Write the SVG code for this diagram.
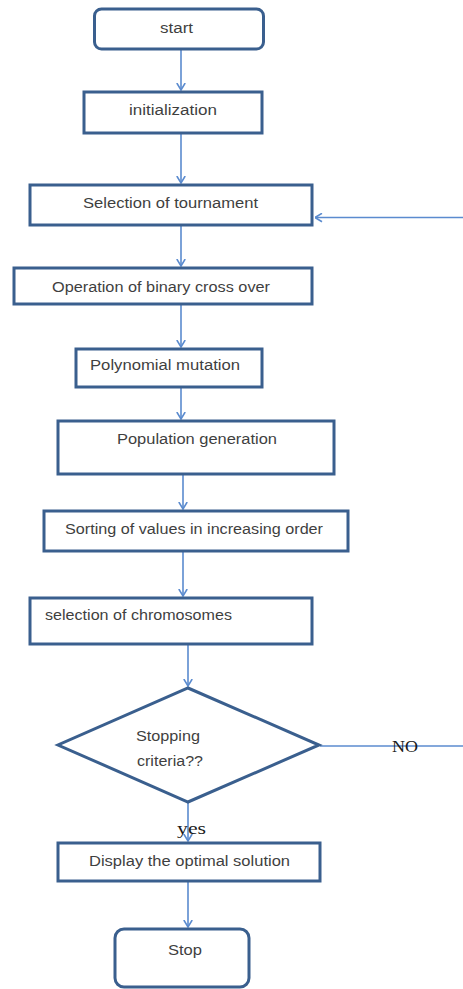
<svg xmlns="http://www.w3.org/2000/svg" width="463" height="989" viewBox="0 0 463 989">
<style>
.box{fill:#ffffff;stroke:#3a5f8e;stroke-width:3}
.lbl{font-family:"Liberation Sans",Arial,sans-serif;font-size:14px;fill:#3f3f3f}
.ser{font-family:"Liberation Serif","Times New Roman",serif;font-size:16px;fill:#1a1a1a}
.con{fill:none;stroke:#5b8bcf;stroke-width:1.6}
</style>
<defs>
<marker id="arr" viewBox="0 0 8 10" refX="7.5" refY="5" markerWidth="8" markerHeight="10" markerUnits="userSpaceOnUse" orient="auto">
<path d="M0.5,0.8 L7.5,5 L0.5,9.2" fill="none" stroke="#5b8bcf" stroke-width="1.6"/>
</marker>
</defs>
<rect width="463" height="989" fill="#ffffff"/>
<g id="connectors">
<line class="con" x1="181" y1="50" x2="181" y2="90" marker-end="url(#arr)"/>
<line class="con" x1="181" y1="134" x2="181" y2="183" marker-end="url(#arr)"/>
<line class="con" x1="181" y1="226" x2="181" y2="266" marker-end="url(#arr)"/>
<line class="con" x1="181" y1="305" x2="181" y2="347" marker-end="url(#arr)"/>
<line class="con" x1="181" y1="388" x2="181" y2="419" marker-end="url(#arr)"/>
<line class="con" x1="183" y1="475" x2="183" y2="509" marker-end="url(#arr)"/>
<line class="con" x1="183" y1="552" x2="183" y2="596" marker-end="url(#arr)"/>
<line class="con" x1="188" y1="645" x2="188" y2="686" marker-end="url(#arr)"/>
<line class="con" x1="188" y1="803" x2="188" y2="841" marker-end="url(#arr)"/>
<line class="con" x1="188" y1="882" x2="188" y2="927" marker-end="url(#arr)"/>
<line class="con" x1="320" y1="746" x2="463" y2="746"/>
<line class="con" x1="463" y1="217.5" x2="315" y2="217.5" marker-end="url(#arr)"/>
<text class="ser" x="392" y="752" textLength="26" lengthAdjust="spacingAndGlyphs">NO</text>
<text class="ser" x="177" y="834" textLength="29" lengthAdjust="spacingAndGlyphs">yes</text>
</g>
<g id="start">
<rect class="box" x="94.5" y="9" width="169" height="40" rx="7"/>
<text class="lbl" x="160" y="33" textLength="33" lengthAdjust="spacingAndGlyphs">start</text>
</g>
<g id="initialization">
<rect class="box" x="84" y="92" width="178" height="41"/>
<text class="lbl" x="129" y="115" textLength="88" lengthAdjust="spacingAndGlyphs">initialization</text>
</g>
<g id="tournament">
<rect class="box" x="30" y="185" width="282" height="40"/>
<text class="lbl" x="83" y="208" textLength="175" lengthAdjust="spacingAndGlyphs">Selection of tournament</text>
</g>
<g id="crossover">
<rect class="box" x="14" y="268" width="298" height="36"/>
<text class="lbl" x="52" y="292" textLength="218" lengthAdjust="spacingAndGlyphs">Operation of binary cross over</text>
</g>
<g id="mutation">
<rect class="box" x="76" y="349" width="186" height="38"/>
<text class="lbl" x="90" y="370" textLength="150" lengthAdjust="spacingAndGlyphs">Polynomial mutation</text>
</g>
<g id="population">
<rect class="box" x="58" y="421" width="276" height="53"/>
<text class="lbl" x="117" y="444" textLength="160" lengthAdjust="spacingAndGlyphs">Population generation</text>
</g>
<g id="sorting">
<rect class="box" x="44" y="511" width="304" height="40"/>
<text class="lbl" x="65" y="534" textLength="258" lengthAdjust="spacingAndGlyphs">Sorting of values in increasing order</text>
</g>
<g id="chromosomes">
<rect class="box" x="30" y="598" width="282" height="46"/>
<text class="lbl" x="45" y="620" textLength="187" lengthAdjust="spacingAndGlyphs">selection of chromosomes</text>
</g>
<g id="decision">
<polygon class="box" points="188,688 319,745 188,802 58,745" stroke-linejoin="miter"/>
<text class="lbl" x="136" y="741" textLength="64" lengthAdjust="spacingAndGlyphs">Stopping</text>
<text class="lbl" x="137" y="766" textLength="66" lengthAdjust="spacingAndGlyphs">criteria??</text>
</g>
<g id="display">
<rect class="box" x="58" y="843" width="262" height="38"/>
<text class="lbl" x="89" y="866" textLength="201" lengthAdjust="spacingAndGlyphs">Display the optimal solution</text>
</g>
<g id="stop">
<rect class="box" x="115" y="929" width="134" height="58" rx="9"/>
<text class="lbl" x="168" y="955" textLength="34" lengthAdjust="spacingAndGlyphs">Stop</text>
</g>
</svg>
